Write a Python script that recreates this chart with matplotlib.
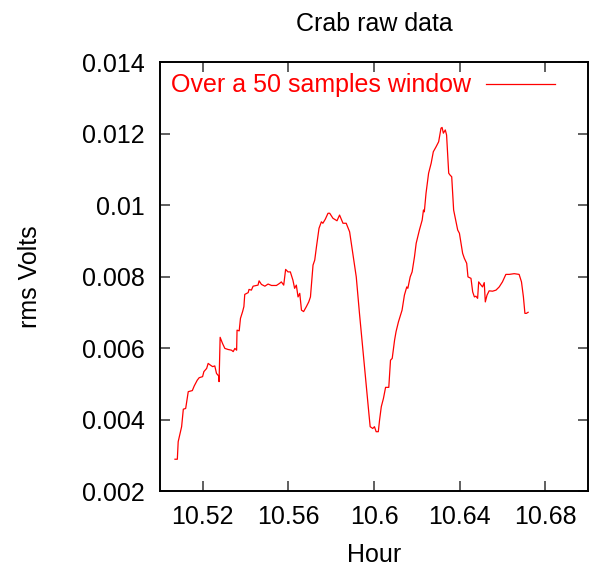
import matplotlib
matplotlib.use("Agg")
import matplotlib.pyplot as plt

# rms voltage over a 50-sample sliding window
hour = [10.5070, 10.5081, 10.5085, 10.5101, 10.5109, 10.5120, 10.5132, 10.5151,
        10.5160, 10.5174, 10.5183, 10.5199, 10.5205, 10.5218, 10.5225, 10.5236,
        10.5246, 10.5256, 10.5264, 10.5274, 10.5276, 10.5281, 10.5292, 10.5303,
        10.5318, 10.5334, 10.5342, 10.5350, 10.5358, 10.5360, 10.5370, 10.5376,
        10.5386, 10.5392, 10.5396, 10.5412, 10.5416, 10.5427, 10.5435, 10.5458,
        10.5463, 10.5474, 10.5490, 10.5505, 10.5521, 10.5544, 10.5559, 10.5567,
        10.5578, 10.5587, 10.5598, 10.5609, 10.5621, 10.5629, 10.5637, 10.5645,
        10.5653, 10.5661, 10.5671, 10.5684, 10.5695, 10.5703, 10.5715, 10.5723,
        10.5731, 10.5743, 10.5754, 10.5761, 10.5772, 10.5785, 10.5793, 10.5808,
        10.5827, 10.5839, 10.5855, 10.5870, 10.5886, 10.5901, 10.5917, 10.5932,
        10.5948, 10.5964, 10.5976, 10.5982, 10.5994, 10.6002, 10.6010, 10.6020,
        10.6026, 10.6034, 10.6044, 10.6054, 10.6069, 10.6077, 10.6085, 10.6096,
        10.6103, 10.6114, 10.6131, 10.6142, 10.6153, 10.6158, 10.6169, 10.6178,
        10.6189, 10.6197, 10.6212, 10.6225, 10.6231, 10.6235, 10.6243, 10.6255,
        10.6267, 10.6277, 10.6290, 10.6302, 10.6313, 10.6318, 10.6324, 10.6333,
        10.6339, 10.6349, 10.6355, 10.6363, 10.6372, 10.6391, 10.6399, 10.6414,
        10.6422, 10.6433, 10.6439, 10.6453, 10.6461, 10.6469, 10.6476, 10.6484,
        10.6489, 10.6500, 10.6507, 10.6515, 10.6520, 10.6528, 10.6538, 10.6554,
        10.6570, 10.6585, 10.6600, 10.6616, 10.6632, 10.6655, 10.6678, 10.6689,
        10.6698, 10.6705, 10.6712, 10.6720]
rms = [0.00289, 0.00289, 0.00338, 0.00380, 0.00429, 0.00431, 0.00478, 0.00481,
       0.00494, 0.00510, 0.00517, 0.00520, 0.00534, 0.00543, 0.00557, 0.00552,
       0.00548, 0.00550, 0.00529, 0.00522, 0.00506, 0.00630, 0.00613, 0.00599,
       0.00596, 0.00594, 0.00590, 0.00599, 0.00594, 0.00650, 0.00648, 0.00683,
       0.00702, 0.00716, 0.00750, 0.00755, 0.00764, 0.00762, 0.00773, 0.00776,
       0.00788, 0.00778, 0.00773, 0.00779, 0.00775, 0.00775, 0.00781, 0.00785,
       0.00776, 0.00820, 0.00813, 0.00813, 0.00790, 0.00767, 0.00776, 0.00743,
       0.00753, 0.00706, 0.00702, 0.00716, 0.00729, 0.00743, 0.00832, 0.00846,
       0.00883, 0.00935, 0.00953, 0.00949, 0.00960, 0.00977, 0.00977, 0.00963,
       0.00956, 0.00972, 0.00949, 0.00949, 0.00925, 0.00865, 0.00799, 0.00697,
       0.00594, 0.00492, 0.00417, 0.00380, 0.00375, 0.00380, 0.00366, 0.00366,
       0.00399, 0.00436, 0.00459, 0.00490, 0.00490, 0.00566, 0.00571, 0.00622,
       0.00646, 0.00673, 0.00706, 0.00748, 0.00771, 0.00767, 0.00799, 0.00813,
       0.00855, 0.00893, 0.00930, 0.00958, 0.00986, 0.00981, 0.01033, 0.01089,
       0.01117, 0.01149, 0.01163, 0.01177, 0.01215, 0.01217, 0.01201, 0.01210,
       0.01196, 0.01089, 0.01084, 0.01079, 0.00986, 0.00930, 0.00921, 0.00865,
       0.00851, 0.00837, 0.00799, 0.00795, 0.00757, 0.00743, 0.00745, 0.00739,
       0.00785, 0.00776, 0.00771, 0.00783, 0.00729, 0.00748, 0.00760, 0.00759,
       0.00762, 0.00771, 0.00785, 0.00806, 0.00806, 0.00808, 0.00806, 0.00785,
       0.00743, 0.00697, 0.00697, 0.00700]

xticks = [10.52, 10.56, 10.6, 10.64, 10.68]
xticklabels = ["10.52", "10.56", "10.6", "10.64", "10.68"]
yticks = [0.002, 0.004, 0.006, 0.008, 0.01, 0.012, 0.014]
yticklabels = ["0.002", "0.004", "0.006", "0.008", "0.01", "0.012", "0.014"]

plt.rcParams['font.family'] = ['Liberation Sans', 'DejaVu Sans']
plt.rcParams['font.size'] = 18

fig = plt.figure(figsize=(5.97, 5.69), dpi=100)
ax = fig.add_axes([0.268, 0.137, 0.717, 0.754])

ax.plot(hour, rms, color='#ff0000', linewidth=0.9, label='Over a 50 samples window')

ax.set_xlim(10.50, 10.70)
ax.set_ylim(0.002, 0.014)
ax.set_xticks(xticks)
ax.set_xticklabels(xticklabels)
ax.set_yticks(yticks)
ax.set_yticklabels(yticklabels)
ax.tick_params(direction='in', length=7, width=1.2, color='#444444',
               top=True, right=True, pad=10)
ax.tick_params(axis='y', pad=11)
for spine in ax.spines.values():
    spine.set_linewidth(1.4)

ax.set_title('Crab raw data', fontsize=18, pad=22)
ax.set_xlabel('Hour', labelpad=10)
ax.set_ylabel('rms Volts', labelpad=29)

leg = ax.legend(loc='upper left', frameon=False, markerfirst=False,
                handlelength=2.75, handletextpad=0.6, borderaxespad=0.15,
                borderpad=0.3)
for t in leg.get_texts():
    t.set_color('#ff0000')

fig.savefig('out.png', dpi=100)
